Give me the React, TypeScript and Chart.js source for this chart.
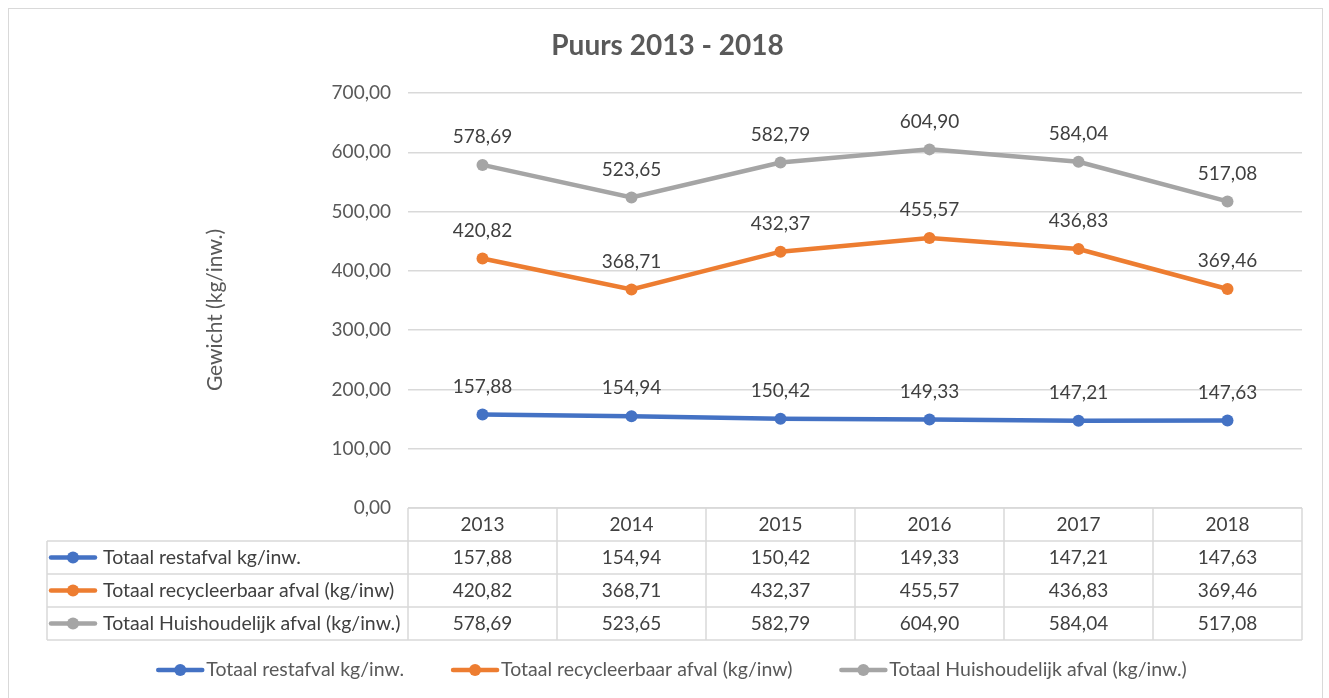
import React, { useEffect, useRef } from "react";
import { Chart, registerables } from "chart.js";

Chart.register(...registerables);

const TITLE = "Puurs 2013 - 2018";
const Y_TITLE = "Gewicht (kg/inw.)";
const categories = ["2013", "2014", "2015", "2016", "2017", "2018"];
const restafval = [157.88, 154.94, 150.42, 149.33, 147.21, 147.63];
const recycleerbaar = [420.82, 368.71, 432.37, 455.57, 436.83, 369.46];
const huishoudelijk = [578.69, 523.65, 582.79, 604.9, 584.04, 517.08];
const seriesNames = [
  "Totaal restafval kg/inw.",
  "Totaal recycleerbaar afval (kg/inw)",
  "Totaal Huishoudelijk afval (kg/inw.)",
];
const seriesColors = ["#4472C4", "#ED7D31", "#A5A5A5"];
const yMin = 0;
const yMax = 700;
const yStep = 100;

const FONT = "Lato, 'Open Sans', sans-serif";
const fmt = (v: number) => Number(v).toFixed(2).replace(".", ",");

const W = 1311;
const H = 689;

const drawMarker = (ctx: CanvasRenderingContext2D, x: number, y: number, color: string) => {
  ctx.save();
  ctx.strokeStyle = color;
  ctx.lineWidth = 4.5;
  ctx.lineCap = "round";
  ctx.beginPath();
  ctx.moveTo(x + 2, y);
  ctx.lineTo(x + 46, y);
  ctx.stroke();
  ctx.fillStyle = color;
  ctx.beginPath();
  ctx.arc(x + 24, y, 6, 0, Math.PI * 2);
  ctx.fill();
  ctx.restore();
};

const extrasPlugin = {
  id: "extras",
  afterDatasetsDraw(chart: any) {
    const ctx: CanvasRenderingContext2D = chart.ctx;
    ctx.save();
    ctx.font = `19px ${FONT}`;
    ctx.fillStyle = "#404040";
    ctx.textAlign = "center";
    ctx.textBaseline = "middle";
    chart.data.datasets.forEach((ds: any, di: number) => {
      const meta = chart.getDatasetMeta(di);
      meta.data.forEach((pt: any, i: number) => {
        ctx.fillText(fmt(ds.data[i]), pt.x, pt.y - 28);
      });
    });
    ctx.restore();
  },
  afterDraw(chart: any) {
    const ctx: CanvasRenderingContext2D = chart.ctx;
    const area = chart.chartArea;
    const xs = chart.scales.x;
    ctx.save();

    // Title
    ctx.fillStyle = "#595959";
    ctx.font = `bold 28px ${FONT}`;
    ctx.textAlign = "center";
    ctx.textBaseline = "middle";
    ctx.fillText(TITLE, chart.width / 2 + 3, 37);

    // Y axis title
    ctx.save();
    ctx.translate(206, 301);
    ctx.rotate(-Math.PI / 2);
    ctx.font = `21px ${FONT}`;
    ctx.fillStyle = "#595959";
    ctx.fillText(Y_TITLE, 0, 0);
    ctx.restore();

    // Data table
    const rowH = 33;
    const top = area.bottom;
    const tableLeft = 38;
    const n = categories.length;
    const colW = (area.right - area.left) / n;
    const bottom = top + rowH * (seriesNames.length + 1);
    ctx.strokeStyle = "#d9d9d9";
    ctx.lineWidth = 1.5;
    ctx.beginPath();
    ctx.moveTo(area.left, top);
    ctx.lineTo(area.right, top);
    for (let r = 1; r <= seriesNames.length + 1; r++) {
      ctx.moveTo(tableLeft, top + rowH * r);
      ctx.lineTo(area.right, top + rowH * r);
    }
    ctx.moveTo(tableLeft, top + rowH);
    ctx.lineTo(tableLeft, bottom);
    for (let c = 0; c <= n; c++) {
      const x = area.left + colW * c;
      ctx.moveTo(x, top);
      ctx.lineTo(x, bottom);
    }
    ctx.stroke();

    ctx.font = `19px ${FONT}`;
    ctx.fillStyle = "#404040";
    ctx.textAlign = "center";
    ctx.textBaseline = "middle";
    categories.forEach((c, i) => {
      ctx.fillText(c, xs.getPixelForValue(i), top + rowH / 2);
    });
    const seriesData = [restafval, recycleerbaar, huishoudelijk];
    seriesData.forEach((arr, r) => {
      const y = top + rowH * (r + 1) + rowH / 2;
      ctx.font = `19px ${FONT}`;
      arr.forEach((v, i) => {
        ctx.textAlign = "center";
        ctx.fillText(fmt(v), xs.getPixelForValue(i), y);
      });
      drawMarker(ctx, tableLeft + 2, y, seriesColors[r]);
      ctx.textAlign = "left";
      ctx.font = `19.5px ${FONT}`;
      ctx.fillText(seriesNames[r], tableLeft + 56, y);
    });

    // Legend
    ctx.font = `19.5px ${FONT}`;
    ctx.fillStyle = "#595959";
    ctx.textAlign = "left";
    const gap = 47;
    const mW = 50;
    const widths = seriesNames.map((s) => ctx.measureText(s).width);
    const total = widths.reduce((a, b) => a + b, 0) + mW * 3 + gap * 2;
    let lx = chart.width / 2 + 7 - total / 2;
    const ly = 661;
    seriesNames.forEach((s, i) => {
      drawMarker(ctx, lx, ly, seriesColors[i]);
      ctx.fillText(s, lx + mW, ly);
      lx += mW + widths[i] + gap;
    });

    ctx.restore();
  },
};

export default function App() {
  const ref = useRef<HTMLCanvasElement | null>(null);
  useEffect(() => {
    if (!ref.current) return;
    const seriesData = [restafval, recycleerbaar, huishoudelijk];
    const chart = new Chart(ref.current, {
      type: "line",
      data: {
        labels: categories,
        datasets: seriesData.map((d, i) => ({
          label: seriesNames[i],
          data: d,
          borderColor: seriesColors[i],
          backgroundColor: seriesColors[i],
          borderWidth: 4.5,
          pointRadius: 6,
          pointBorderWidth: 0,
          pointBackgroundColor: seriesColors[i],
          tension: 0,
        })),
      },
      options: {
        responsive: false,
        animation: false,
        events: [],
        layout: { padding: { top: 84, right: 18, bottom: 190, left: 0 } },
        plugins: {
          legend: { display: false },
          title: { display: false },
          tooltip: { enabled: false },
        },
        scales: {
          x: { type: "category", offset: true, display: false },
          y: {
            min: yMin,
            max: yMax,
            ticks: {
              stepSize: yStep,
              callback: (v: any) => fmt(v),
              color: "#595959",
              font: { family: FONT, size: 19 },
              padding: 17,
            },
            grid: { color: "#d9d9d9", lineWidth: 1.5, drawTicks: false },
            border: { display: false },
            afterFit: (s: any) => {
              s.width = 399;
            },
          },
        },
      },
      plugins: [extrasPlugin],
    } as any);
    return () => chart.destroy();
  }, []);

  return (
    <div
      style={{
        position: "fixed",
        left: 8,
        top: 8,
        width: W + 2,
        height: H + 1,
        borderTop: "1px solid #d9d9d9",
        borderLeft: "1px solid #d9d9d9",
        borderRight: "1px solid #d9d9d9",
        background: "#fff",
      }}
    >
      <canvas ref={ref} width={W} height={H} style={{ display: "block", width: W, height: H }} />
    </div>
  );
}
